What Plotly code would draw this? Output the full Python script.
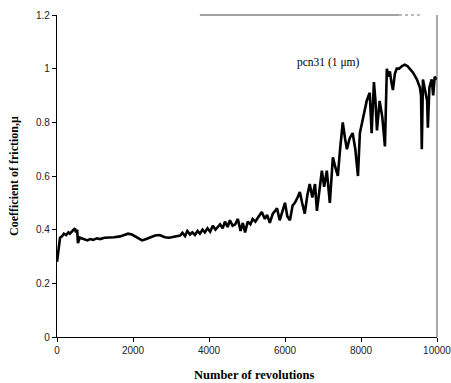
import plotly.graph_objects as go

revolutions = [0, 40, 80, 130, 180, 240, 300, 340, 400, 470, 500, 530, 550, 580, 600, 700, 800, 870, 950, 1050, 1130, 1250,
               1390, 1500, 1660, 1780, 1870, 1970, 2060, 2150, 2240, 2350, 2450, 2580, 2700, 2840, 2950, 3100, 3240,
               3300, 3370, 3430, 3500, 3560, 3630, 3700, 3760, 3830, 3890, 3960, 4030, 4100, 4170, 4230, 4290, 4360,
               4420, 4490, 4550, 4620, 4690, 4760, 4830, 4890, 4950, 5020, 5090, 5150, 5220, 5290, 5390, 5470, 5530,
               5600, 5680, 5740, 5790, 5860, 5930, 6000, 6060, 6130, 6200, 6260, 6330, 6390, 6450, 6520, 6590, 6650,
               6720, 6790, 6840, 6900, 6970, 7030, 7100, 7180, 7260, 7330, 7390, 7450, 7520, 7580, 7630, 7700, 7780,
               7850, 7920, 7970, 8030, 8100, 8150, 8200, 8230, 8280, 8340, 8380, 8420, 8490, 8560, 8630, 8680, 8720,
               8760, 8800, 8840, 8890, 8940, 9000, 9080, 9150, 9220, 9280, 9370, 9470, 9520, 9550, 9580, 9600, 9630,
               9680, 9740, 9760, 9800, 9860, 9900, 9940, 10000]
friction = [0.28, 0.33, 0.37, 0.375, 0.385, 0.38, 0.39, 0.385, 0.395, 0.405, 0.39, 0.4, 0.35, 0.365, 0.37, 0.365, 0.36, 0.365, 0.362, 0.368, 0.365, 0.37,
            0.37, 0.372, 0.375, 0.38, 0.385, 0.382, 0.375, 0.37, 0.36, 0.365, 0.37, 0.378, 0.38, 0.372, 0.37, 0.375, 0.378,
            0.388, 0.376, 0.395, 0.382, 0.39, 0.38, 0.395, 0.385, 0.4, 0.39, 0.405, 0.392, 0.415, 0.4, 0.41, 0.42, 0.405,
            0.43, 0.41, 0.435, 0.415, 0.42, 0.44, 0.395, 0.425, 0.39, 0.43, 0.42, 0.44, 0.43, 0.445, 0.466, 0.44, 0.455,
            0.425, 0.46, 0.47, 0.48, 0.435, 0.47, 0.5, 0.45, 0.435, 0.49, 0.5, 0.52, 0.54, 0.5, 0.46, 0.53, 0.57,
            0.52, 0.57, 0.47, 0.55, 0.62, 0.56, 0.62, 0.5, 0.67, 0.63, 0.6, 0.7, 0.8, 0.74, 0.7, 0.74, 0.76,
            0.7, 0.6, 0.76, 0.8, 0.85, 0.88, 0.9, 0.91, 0.76, 0.95, 0.88, 0.77, 0.88, 0.82, 0.71, 1.0, 0.97,
            0.99, 0.95, 0.92, 0.98, 1.0, 1.0, 1.01, 1.015, 1.01, 1.0, 0.985, 0.96, 0.94, 0.93, 0.9, 0.7, 0.96,
            0.92, 0.88, 0.78, 0.93, 0.96, 0.9, 0.97, 0.96]

x_ticks = [0, 2000, 4000, 6000, 8000, 10000]
x_tick_labels = ["0", "2000", "4000", "6000", "8000", "10000"]
y_ticks = [0, 0.2, 0.4, 0.6, 0.8, 1.0, 1.2]
y_tick_labels = ["0", "0.2", "0.4", "0.6", "0.8", "1", "1.2"]
label = "pcn31 (1 μm)"
x_title = "Number of revolutions"
y_title = "Coefficient of friction,μ"

fig = go.Figure()
fig.add_trace(go.Scatter(x=revolutions, y=friction, mode="lines",
                         line=dict(color="black", width=2.6), showlegend=False))

fig.update_layout(
    width=451, height=383,
    margin=dict(l=57, r=14, t=15, b=46),
    paper_bgcolor="white", plot_bgcolor="white",
    xaxis=dict(range=[0, 10000], tickvals=x_ticks, ticktext=x_tick_labels, ticks="outside", ticklen=4,
               tickcolor="black", automargin=False, ticklabeloverflow="allow",
               showgrid=False, zeroline=False, showline=True, linecolor="black", linewidth=1.3,
               tickfont=dict(family="Liberation Sans", size=10, color="#222")),
    yaxis=dict(range=[0, 1.2], tickvals=y_ticks, ticktext=y_tick_labels, ticks="outside", ticklen=4,
               automargin=False, ticklabeloverflow="allow",
               tickcolor="black", showgrid=False, zeroline=False, showline=True, linecolor="black",
               linewidth=1.3, tickfont=dict(family="Liberation Sans", size=10, color="#222")),
    shapes=[
        dict(type="line", xref="paper", yref="paper", x0=1, x1=1, y0=0, y1=1,
             line=dict(color="#555", width=1)),
        dict(type="line", xref="paper", yref="paper", x0=0.376, x1=0.9, y0=1, y1=1,
             line=dict(color="#444", width=1)),
        dict(type="line", xref="paper", yref="paper", x0=0.9, x1=0.955, y0=1, y1=1,
             line=dict(color="#777", width=1, dash="dot")),
    ],
    annotations=[
        dict(text=label, x=0.626, y=0.854, xref="paper", yref="paper", xanchor="left",
             yanchor="middle", showarrow=False,
             font=dict(family="Liberation Serif", size=11.5, color="black")),
        dict(text="<b>" + x_title + "</b>", x=0.52, y=-38 / 322, xref="paper", yref="paper",
             yanchor="middle", xanchor="center", showarrow=False,
             font=dict(family="Liberation Serif", size=12.5, color="black")),
        dict(text="<b>" + y_title + "</b>", x=-43 / 380, y=0.5, xref="paper", yref="paper",
             textangle=-90, xanchor="center", yanchor="middle", showarrow=False,
             font=dict(family="Liberation Serif", size=12, color="black")),
    ],
)

fig.write_html("out.html", config={"displayModeBar": False},
               post_script="document.body.style.margin='0';document.body.style.overflow='hidden';"
                           "document.documentElement.style.overflow='hidden';")
